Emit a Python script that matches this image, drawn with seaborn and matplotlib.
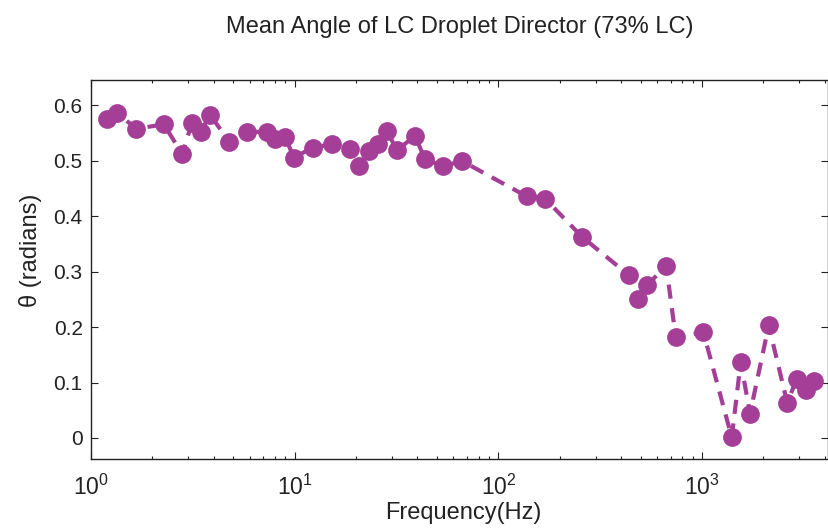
import seaborn as sns
import matplotlib.pyplot as plt
import matplotlib.ticker as mticker
import pandas as pd

# values
freq_hz = [1.205, 1.349, 1.667, 2.278, 2.807, 3.125, 3.459, 3.847, 4.759, 5.852,
           7.271, 8.006, 8.964, 9.922, 12.26, 15.19, 18.68, 20.76, 23.09, 25.55,
           28.49, 31.67, 38.96, 43.62, 53.63, 66.05, 137.7, 169.3, 257.3, 436.2,
           486.2, 538.3, 666.4, 742.0, 1014, 1398, 1547, 1719, 2123, 2620,
           2914, 3226, 3555]
theta_rad = [0.575, 0.586, 0.558, 0.566, 0.512, 0.568, 0.553, 0.583, 0.535, 0.553,
             0.552, 0.539, 0.543, 0.506, 0.524, 0.530, 0.521, 0.491, 0.518, 0.531,
             0.554, 0.519, 0.545, 0.503, 0.490, 0.500, 0.436, 0.432, 0.363, 0.294,
             0.250, 0.276, 0.311, 0.182, 0.191, 0.001, 0.137, 0.044, 0.203, 0.063,
             0.107, 0.087, 0.102]
y_ticks = [0, 0.1, 0.2, 0.3, 0.4, 0.5, 0.6]

df = pd.DataFrame({"freq": freq_hz, "theta": theta_rad})

sns.set_style("ticks")
plt.rcParams["font.family"] = ["Liberation Sans", "DejaVu Sans"]
plt.rcParams["mathtext.fontset"] = "custom"
plt.rcParams["mathtext.rm"] = "Liberation Sans"
plt.rcParams["mathtext.it"] = "Liberation Sans"

fig = plt.figure(figsize=(8.29, 5.31), dpi=100)
ax = fig.add_axes([91 / 829, 72 / 531, 737 / 829, 379 / 531])

purple = "#A43E96"
sns.lineplot(data=df, x="freq", y="theta", ax=ax, color=purple, linewidth=3,
             linestyle="--", marker="o", markersize=13.5, markeredgewidth=0,
             estimator=None, sort=False)
ax.lines[0].set_dashes((3.4, 2.3))

ax.set_xscale("log")
ax.set_xlim(1, 4150)
ax.set_ylim(-0.038, 0.646)
ax.set_yticks(y_ticks)
ax.yaxis.set_major_formatter(mticker.FormatStrFormatter("%g"))
ax.xaxis.set_minor_locator(mticker.LogLocator(base=10, subs=range(2, 10)))
ax.xaxis.set_minor_formatter(mticker.NullFormatter())

for side in ax.spines.values():
    side.set_visible(True)
    side.set_linewidth(1.0)
    side.set_color("#222222")
ax.tick_params(which="both", direction="in", top=True, right=True,
               colors="#222222", labelcolor="#222222", width=0.8)
ax.tick_params(which="major", length=5, labelsize=15)
ax.tick_params(which="minor", length=2.5)
ax.tick_params(axis="x", which="major", pad=11, labelsize=16.5)
ax.tick_params(axis="y", which="major", pad=6)

ax.set_title("Mean Angle of LC Droplet Director (73% LC)", fontsize=17,
             pad=34, color="#222222")
ax.set_xlabel("Frequency(Hz)", fontsize=17, color="#222222")
ax.set_ylabel("θ (radians)", fontsize=17, color="#222222")
ax.xaxis.set_label_coords(0.505, -0.113)
ax.yaxis.set_label_coords(-0.066, 0.55)

fig.savefig("out.png", dpi=100)
